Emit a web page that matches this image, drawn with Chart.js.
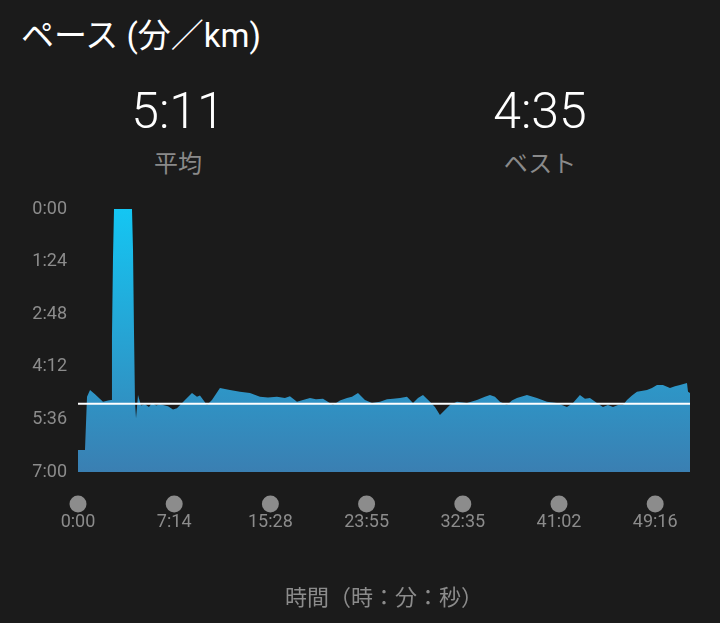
<!DOCTYPE html>
<html>
<head>
<meta charset="utf-8">
<script src="https://cdn.jsdelivr.net/npm/chart.js@4.4.1/dist/chart.umd.min.js"></script>
<style>
  html, body { margin: 0; padding: 0; background: #1b1b1b; }
  body { width: 720px; height: 623px; position: relative; overflow: hidden;
         font-family: Roboto, "Noto Sans CJK JP", sans-serif; }
  #wrap { position: absolute; left: 0; top: 0; width: 720px; height: 623px; }
  .title { position: absolute; left: 21px; top: 9px; color: #fff; font-size: 33px;
           font-family: Roboto, "Noto Sans CJK JP", sans-serif; }
  .stat { position: absolute; width: 200px; text-align: center; }
  .stat .num { color: #fff; font-size: 50px; font-weight: 300; line-height: 50px; }
  .stat .lbl { color: #8a8a8a; font-size: 24px; margin-top: 8px;
               font-family: "Noto Sans CJK JP", sans-serif; }
</style>
</head>
<body>
<div class="title">ペース (分／km)</div>
<div class="stat" style="left:78px; top:86px;"><div class="num" id="avgNum"></div><div class="lbl">平均</div></div>
<div class="stat" style="left:440px; top:86px;"><div class="num" id="bestNum"></div><div class="lbl">ベスト</div></div>
<div id="wrap"><canvas id="paceChart"></canvas></div>
<script>
// distance along the run (km) and pace (seconds per km)
const distKm = [0, 0.116, 0.150, 0.200, 0.283, 0.416, 0.499, 0.549, 0.565, 0.582, 0.599, 0.898, 0.915, 0.931,
  0.948, 0.965, 0.998, 1.048, 1.114, 1.180, 1.231, 1.300, 1.364, 1.497, 1.580, 1.646, 1.779, 1.896, 1.979, 2.029,
  2.145, 2.228, 2.361, 2.528, 2.694, 2.860, 3.027, 3.160, 3.309, 3.442, 3.525, 3.642, 3.742, 3.858, 3.958,
  4.075, 4.241, 4.357, 4.474, 4.557, 4.657, 4.773, 4.890, 5.023, 5.140, 5.239, 5.356, 5.472, 5.572, 5.655,
  5.738, 5.854, 5.937, 6.020, 6.186, 6.303, 6.469, 6.635, 6.768, 6.851, 6.935, 7.018, 7.134, 7.217, 7.301,
  7.467, 7.633, 7.800, 7.966, 8.132, 8.232, 8.348, 8.432, 8.515, 8.631, 8.731, 8.814, 8.898, 8.981, 9.064,
  9.131, 9.214, 9.297, 9.463, 9.546, 9.630, 9.729, 9.846, 9.929, 10.012, 10.129, 10.146, 10.179];
const paceSec = [385, 385, 300, 289, 296, 308, 306, 305, 204, 78, 0, 0, 65, 193,
  308, 334, 297, 314, 312, 316, 310, 314, 312, 315, 320, 318, 305, 294, 300, 298,
  313, 305, 286, 289, 292, 294, 300, 301, 300, 302, 299, 308, 305, 302, 304,
  303, 313, 306, 302, 300, 294, 305, 310, 308, 304, 303, 302, 300, 310, 302,
  297, 308, 316, 329, 313, 308, 310, 305, 300, 297, 300, 308, 313, 306, 302,
  297, 302, 308, 310, 316, 310, 297, 303, 302, 310, 316, 313, 316, 313, 313,
  305, 298, 292, 289, 286, 281, 281, 286, 283, 281, 278, 292, 294];
const avgPace = 311;   // 5:11
const bestPace = 275;  // 4:35
const tickKm = [0, 1.6, 3.2, 4.8, 6.4, 8.0, 9.6];
const tickLabels = ['0:00', '7:14', '15:28', '23:55', '32:35', '41:02', '49:16'];
const yTicks = [0, 84, 168, 252, 336, 420];

function fmt(s) {
  const m = Math.floor(s / 60);
  const r = Math.round(s % 60);
  return m + ':' + String(r).padStart(2, '0');
}

document.getElementById('avgNum').textContent = fmt(avgPace);
document.getElementById('bestNum').textContent = fmt(bestPace);

const xMax = distKm[distKm.length - 1];
const GREY = '#8c8c8c';

const tickDots = {
  id: 'tickDots',
  afterDraw(chart) {
    const ctx = chart.ctx;
    const xs = chart.scales.x;
    ctx.save();
    ctx.fillStyle = GREY;
    xs.ticks.forEach(t => {
      ctx.beginPath();
      ctx.arc(xs.getPixelForValue(t.value), 504, 8.5, 0, Math.PI * 2);
      ctx.fill();
    });
    ctx.restore();
  }
};

function areaFill(context) {
  const area = context.chart.chartArea;
  if (!area) return '#3190c8';
  const g = context.chart.ctx.createLinearGradient(0, area.top, 0, area.bottom);
  g.addColorStop(0, '#14c6f3');
  g.addColorStop(1, '#3a7fb2');
  return g;
}

const ctx = document.getElementById('paceChart').getContext('2d');
new Chart(ctx, {
  type: 'line',
  data: {
    datasets: [
      {
        label: 'avg',
        data: [{x: 0, y: avgPace}, {x: xMax, y: avgPace}],
        borderColor: '#ffffff',
        borderWidth: 2,
        pointRadius: 0,
        fill: false,
        order: 0
      },
      {
        label: 'pace',
        data: distKm.map((d, i) => ({x: d, y: paceSec[i]})),
        backgroundColor: areaFill,
        borderWidth: 0,
        pointRadius: 0,
        tension: 0,
        fill: 'start',
        order: 1
      }
    ]
  },
  options: {
    responsive: true,
    maintainAspectRatio: false,
    animation: false,
    layout: { padding: { top: 209, right: 30, left: 0, bottom: 0 } },
    plugins: { legend: { display: false }, tooltip: { enabled: false } },
    scales: {
      x: {
        type: 'linear',
        min: 0,
        max: xMax,
        afterBuildTicks: s => { s.ticks = tickKm.map(v => ({value: v})); },
        afterFit: s => { s.height = 151; },
        ticks: {
          autoSkip: false,
          maxRotation: 0,
          padding: 40,
          color: GREY,
          font: { family: 'Roboto', size: 18 },
          callback: (v, i) => tickLabels[i]
        },
        grid: { display: false, drawTicks: false },
        border: { display: false },
        title: {
          display: true,
          text: '時間（時：分：秒）',
          color: GREY,
          font: { family: '"Noto Sans CJK JP"', size: 22 },
          padding: { top: 0, bottom: 13 }
        }
      },
      y: {
        type: 'linear',
        reverse: true,
        min: 0,
        max: 420,
        afterBuildTicks: s => { s.ticks = yTicks.map(v => ({value: v})); },
        afterFit: s => { s.width = 78; },
        ticks: {
          padding: 11,
          color: GREY,
          font: { family: 'Roboto', size: 18 },
          callback: v => fmt(v)
        },
        grid: { display: false, drawTicks: false },
        border: { display: false }
      }
    }
  },
  plugins: [tickDots]
});
</script>
</body>
</html>
